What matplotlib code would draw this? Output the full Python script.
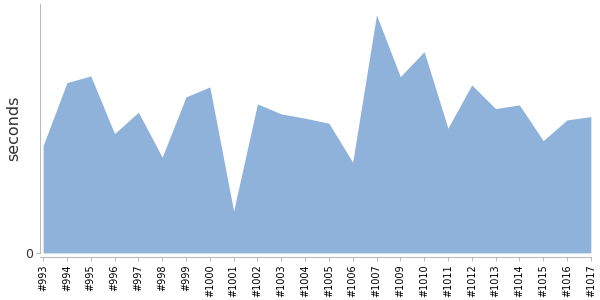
import matplotlib
matplotlib.use('Agg')
from matplotlib import pyplot

builds = ['#993', '#994', '#995', '#996', '#997', '#998', '#999', '#1000',
          '#1001', '#1002', '#1003', '#1004', '#1005', '#1006', '#1007',
          '#1009', '#1010', '#1011', '#1012', '#1013', '#1014', '#1015',
          '#1016', '#1017']
seconds = [10.73, 17.03, 17.70, 11.93, 14.07, 9.57, 15.60, 16.60,
           4.20, 14.90, 13.90, 13.47, 12.97, 9.07, 23.80,
           17.63, 20.13, 12.47, 16.80, 14.43, 14.80, 11.23,
           13.30, 13.63]

fig = pyplot.figure(figsize=(6, 3), dpi=100)
ax = fig.add_axes([0.0667, 0.157, 0.918, 0.83])

# spine position first, it resets the ticks
for s in ['top', 'right']:
    ax.spines[s].set_visible(False)
ax.spines['left'].set_color('#bbbbbb')
ax.spines['bottom'].set_color('#bbbbbb')
ax.spines['bottom'].set_position(('outward', 3))

x = range(len(builds))
ax.fill_between(x, 0, seconds, color='#8fb2da', linewidth=0)

ax.set_xlim(-0.13, len(builds) - 1)
ax.set_ylim(0, 24.9)
ax.set_xticks(list(x))
ax.set_xticklabels(builds, rotation=90, fontsize=7, color='black')
ax.set_yticks([0])
ax.set_yticklabels(['0'], fontsize=9, color='#333333')
ax.set_ylabel('seconds', fontsize=11.5, color='#333333', labelpad=3)
ax.tick_params(axis='x', length=3, color='#bbbbbb', pad=2)
ax.tick_params(axis='y', length=3, color='#bbbbbb', pad=2)

pyplot.savefig('out.png', dpi=100)
